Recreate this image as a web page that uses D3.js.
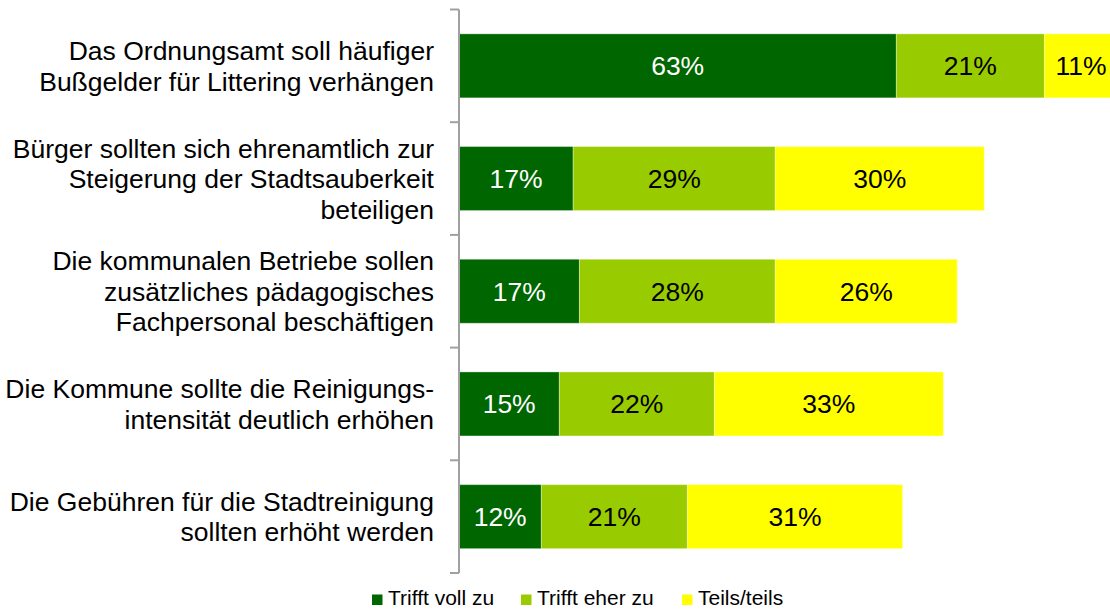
<!DOCTYPE html>
<html>
<head>
<meta charset="utf-8">
<script src="https://cdn.jsdelivr.net/npm/d3@7"></script>
<style>
  html, body { margin: 0; padding: 0; background: #fff; }
  svg { display: block; font-family: "Liberation Sans", Arial, sans-serif; }
</style>
</head>
<body>
<svg id="chart" width="1110" height="610"></svg>
<script>
// ---- data ----
const categories = [
  ["Das Ordnungsamt soll häufiger", "Bußgelder für Littering verhängen"],
  ["Bürger sollten sich ehrenamtlich zur", "Steigerung der Stadtsauberkeit", "beteiligen"],
  ["Die kommunalen Betriebe sollen", "zusätzliches pädagogisches", "Fachpersonal beschäftigen"],
  ["Die Kommune sollte die Reinigungs-", "intensität deutlich erhöhen"],
  ["Die Gebühren für die Stadtreinigung", "sollten erhöht werden"]
];
const seriesNames = ["Trifft voll zu", "Trifft eher zu", "Teils/teils"];
const trifftVollZu  = [63.2, 16.5, 17.4, 14.5, 11.9];
const trifftEherZu  = [21.4, 29.2, 28.3, 22.4, 21.1];
const teilsTeils    = [10.6, 30.2, 26.3, 33.1, 31.1];
const colors = ["#006600", "#99cc00", "#ffff00"];
const labelColors = ["#ffffff", "#000000", "#000000"];

// ---- layout ----
const svg = d3.select("#chart");
const W = 1110, H = 610;
const x0 = 459, yTop = 9.5, yBottom = 573;

const seriesValues = [trifftVollZu, trifftEherZu, teilsTeils];
const rows = categories.map((c, i) => {
  const r = { idx: i };
  seriesNames.forEach((s, j) => r[s] = seriesValues[j][i]);
  return r;
});
const stack = d3.stack().keys(seriesNames)(rows);

const x = d3.scaleLinear().domain([0, 100]).range([x0, x0 + 692]);
const y = d3.scaleBand().domain(d3.range(categories.length))
  .range([yTop, yBottom]).paddingInner(0.432).paddingOuter(0.216);

svg.append("defs").append("clipPath").attr("id", "clip")
  .append("rect").attr("x", 0).attr("y", 0).attr("width", W).attr("height", H);

const g = svg.append("g").attr("clip-path", "url(#clip)");

// bars
stack.forEach((layer, j) => {
  const lg = g.append("g");
  lg.selectAll("rect").data(layer).join("rect")
    .attr("x", d => x(d[0]))
    .attr("y", (d, i) => y(i))
    .attr("width", d => x(d[1]) - x(d[0]))
    .attr("height", y.bandwidth())
    .attr("fill", colors[j])
    .attr("stroke", "rgba(255,255,255,0.35)")
    .attr("stroke-width", 1);
  lg.selectAll("text").data(layer).join("text")
    .attr("x", d => (x(d[0]) + x(d[1])) / 2)
    .attr("y", (d, i) => y(i) + y.bandwidth() / 2)
    .attr("dy", "0.36em")
    .attr("text-anchor", "middle")
    .attr("font-size", 26.5)
    .attr("fill", labelColors[j])
    .text(d => Math.round(d[1] - d[0]) + "%");
});

// axis
const step = y.step();
const ax = svg.append("g").attr("stroke", "#a0a0a0").attr("stroke-width", 2);
ax.append("line").attr("x1", x0).attr("x2", x0).attr("y1", yTop).attr("y2", yBottom);
ax.selectAll("line.tick").data(d3.range(categories.length + 1)).join("line")
  .attr("class", "tick")
  .attr("x1", x0 - 9).attr("x2", x0)
  .attr("y1", i => yTop + i * step).attr("y2", i => yTop + i * step);

// category labels
const lineH = 30.5;
const cl = svg.append("g");
categories.forEach((lines, i) => {
  const cy = y(i) + y.bandwidth() / 2;
  const t = cl.append("text")
    .attr("text-anchor", "end")
    .attr("font-size", 26.5)
    .attr("fill", "#000");
  lines.forEach((ln, k) => {
    t.append("tspan")
      .attr("x", 434)
      .attr("y", cy + (k - (lines.length - 1) / 2) * lineH)
      .attr("dy", "0.36em")
      .text(ln);
  });
});

// legend
const legendX = [372, 521, 682];
const lgd = svg.append("g");
seriesNames.forEach((s, j) => {
  lgd.append("rect").attr("x", legendX[j]).attr("y", 594.5).attr("width", 10.5).attr("height", 10.5)
    .attr("fill", colors[j]);
  lgd.append("text").attr("x", legendX[j] + 16).attr("y", 605)
    .attr("font-size", 21).attr("fill", "#000").text(s);
});
</script>
</body>
</html>
